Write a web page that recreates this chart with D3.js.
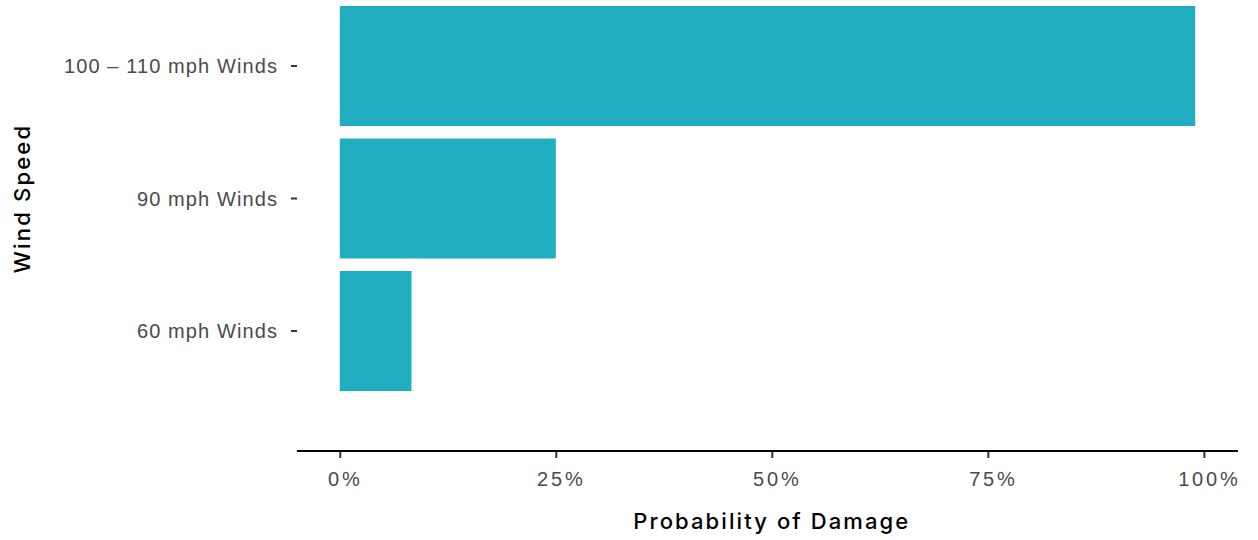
<!DOCTYPE html>
<html>
<head>
<meta charset="utf-8">
<script src="https://cdn.jsdelivr.net/npm/d3@7"></script>
<style>
  html, body { margin: 0; padding: 0; background: #fff; }
  svg { display: block; font-family: Inter, "Liberation Sans", Arial, sans-serif; }
</style>
</head>
<body>
<svg id="chart" width="1258" height="540"></svg>
<script>
// Probability of damage by wind speed
const categories = ["100 – 110 mph Winds", "90 mph Winds", "60 mph Winds"];
const probabilities = [0.99, 0.25, 0.083];
const xTickValues = [0, 0.25, 0.5, 0.75, 1];

const data = categories.map((c, i) => ({ category: c, value: probabilities[i] }));

const svg = d3.select("#chart");
const panel = { left: 297, right: 1238, axisY: 451 };
const barColor = "#22aec1";

const maxVal = d3.max(probabilities);
const x = d3.scaleLinear()
  .domain([-0.05 * maxVal, maxVal * 1.05])
  .range([panel.left, panel.right]);

const y = d3.scaleBand()
  .domain(categories)
  .range([-0.25, 397.25])
  .paddingInner(0.0943)
  .paddingOuter(0.0943 / 2);

// Bars
svg.append("g")
  .selectAll("rect")
  .data(data)
  .join("rect")
  .attr("x", x(0))
  .attr("y", d => y(d.category))
  .attr("width", d => x(d.value) - x(0))
  .attr("height", y.bandwidth())
  .attr("fill", barColor);

// Y axis (ticks and labels, no line)
const yAxis = svg.append("g")
  .attr("transform", `translate(${panel.left},0)`)
  .call(d3.axisLeft(y).tickSize(6).tickPadding(13));
yAxis.select(".domain").remove();
yAxis.selectAll(".tick line").attr("stroke", "#333").attr("stroke-width", 2);
yAxis.selectAll(".tick text")
  .attr("fill", "#4a4a4a")
  .style("font-size", "20px")
  .style("font-weight", 500)
  .style("letter-spacing", "1.1px")
  .attr("dy", "0.36em");

// X axis
const xAxis = svg.append("g")
  .attr("transform", `translate(0,${panel.axisY})`)
  .call(d3.axisBottom(x).tickValues(xTickValues).tickFormat(d3.format(".0%")).tickSize(7).tickPadding(10));
xAxis.select(".domain").remove();
xAxis.append("line")
  .attr("x1", panel.left).attr("x2", panel.right)
  .attr("y1", 0).attr("y2", 0)
  .attr("stroke", "#000").attr("stroke-width", 2.2);
xAxis.selectAll(".tick line").attr("stroke", "#333").attr("stroke-width", 2);
xAxis.selectAll(".tick text")
  .attr("fill", "#4a4a4a")
  .style("font-size", "20px")
  .style("font-weight", 500)
  .style("letter-spacing", "2.8px")
  .attr("dx", "5px")
  .attr("dy", "0.9em");

// Axis titles
svg.append("text")
  .attr("x", (x(0) + x(1)) / 2)
  .attr("y", 529)
  .attr("text-anchor", "middle")
  .style("font-size", "22px")
  .style("font-weight", 500)
  .style("letter-spacing", "2.1px")
  .attr("fill", "#000")
  .text("Probability of Damage");

svg.append("text")
  .attr("transform", `translate(30,${y.range()[0] + (y.range()[1] - y.range()[0]) / 2}) rotate(-90)`)
  .attr("text-anchor", "middle")
  .style("font-size", "22px")
  .style("font-weight", 500)
  .style("letter-spacing", "2.2px")
  .attr("fill", "#000")
  .text("Wind Speed");
</script>
</body>
</html>
